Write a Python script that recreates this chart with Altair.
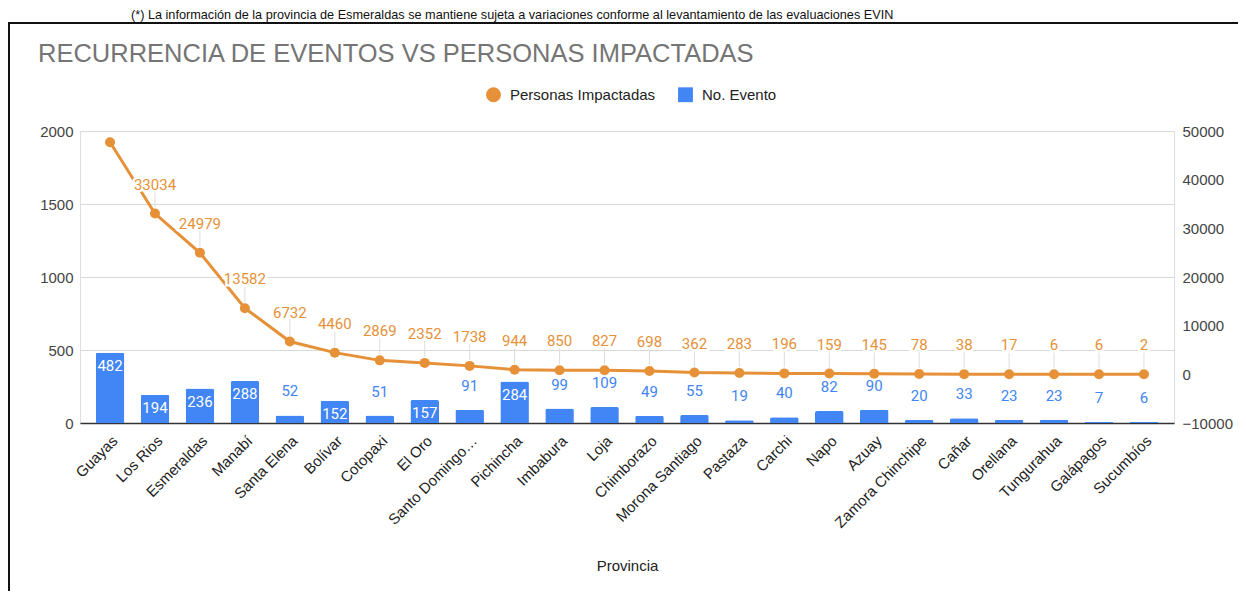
import altair as alt
import pandas as pd

# ---- data ----
provincias = ["Guayas", "Los Rios", "Esmeraldas", "Manabí", "Santa Elena", "Bolívar",
              "Cotopaxi", "El Oro", "Santo Domingo de los Tsáchilas", "Pichincha",
              "Imbabura", "Loja", "Chimborazo", "Morona Santiago", "Pastaza", "Carchi",
              "Napo", "Azuay", "Zamora Chinchipe", "Cañar", "Orellana", "Tungurahua",
              "Galápagos", "Sucumbíos"]
eventos = [482, 194, 236, 288, 52, 152, 51, 157, 91, 284, 99, 109, 49, 55, 19, 40,
           82, 90, 20, 33, 23, 23, 7, 6]
personas = [47700, 33034, 24979, 13582, 6732, 4460, 2869, 2352, 1738, 944, 850, 827,
            698, 362, 283, 196, 159, 145, 78, 38, 17, 6, 6, 2]
serie_personas = "Personas Impactadas"
serie_eventos = "No. Evento"
left_ticks = [0, 500, 1000, 1500, 2000]
right_ticks = [-10000, 0, 10000, 20000, 30000, 40000, 50000]
titulo = "RECURRENCIA DE EVENTOS VS PERSONAS IMPACTADAS"
nota = ("(*) La información de la provincia de Esmeraldas se mantiene sujeta a variaciones "
        "conforme al levantamiento de las evaluaciones EVIN")

df = pd.DataFrame({"provincia": provincias, "eventos": eventos, "personas": personas})

ORANGE = "#E69138"
BLUE = "#4285F4"
AXFONT = "Liberation Sans"

x = alt.X(
    "provincia:N", sort=provincias,
    scale=alt.Scale(paddingInner=0.364, paddingOuter=0.35),
    axis=alt.Axis(
        title="Provincia", labelAngle=315, labelFont=AXFONT, labelFontSize=15,
        labelColor="#222", ticks=False, domainColor="#333", domainWidth=1.5,
        labelPadding=10, titlePadding=28, titleFont=AXFONT, titleFontSize=15,
        titleFontWeight="normal", titleColor="#222", labelLimit=200,
        labelExpr="length(datum.label) > 16 ? substring(datum.label, 0, 13) + '…' : datum.label",
    ),
)

y_left = alt.Y(
    "eventos:Q",
    scale=alt.Scale(domain=[0, 2000], nice=False),
    axis=alt.Axis(values=left_ticks, format="d", grid=True, gridColor="#d9d9d9", domain=False,
                  ticks=False, labelPadding=7, labelFont=AXFONT, labelFontSize=15,
                  labelColor="#444", title=None),
)
y_right = alt.Y(
    "personas:Q",
    scale=alt.Scale(domain=[-10000, 50000], nice=False),
    axis=alt.Axis(orient="right", values=right_ticks, format="d", grid=False, domain=False,
                  ticks=False, labelPadding=8, labelFont=AXFONT, labelFontSize=15,
                  labelColor="#444", title=None),
)

base = alt.Chart(df)

bars = base.mark_bar(color=BLUE, cornerRadiusTopLeft=2, cornerRadiusTopRight=2).encode(x=x, y=y_left)
bar_in = base.mark_text(color="white", font="Roboto", fontSize=15, baseline="middle", dy=13).encode(
    x=x, y=y_left, text="eventos:Q").transform_filter("datum.eventos >= 150")
bar_out = base.mark_text(color=BLUE, font="Roboto", fontSize=15, baseline="middle", dy=-24).encode(
    x=x, y=y_left, text="eventos:Q").transform_filter("datum.eventos < 150")
bar_group = alt.layer(bars, bar_in, bar_out)

line = base.mark_line(color=ORANGE, strokeWidth=3).encode(x=x, y=y_right)
leaders = base.mark_rule(color="#dddddd", strokeWidth=1, yOffset=-22, y2Offset=-6).encode(
    x=x, y=y_right, y2=alt.Y2("personas")).transform_filter("datum.provincia != 'Guayas'")

legend_def = alt.Legend(orient="none", legendX=406, legendY=-44, direction="horizontal",
                        title=None, symbolSize=220, labelFont=AXFONT, labelFontSize=15,
                        labelColor="#222", columnPadding=22, labelOffset=9,
                        symbolStrokeWidth=0, padding=0)
points = base.mark_point(filled=True, size=100, opacity=1).encode(
    x=x, y=y_right,
    color=alt.Color("serie:N", scale=alt.Scale(domain=[serie_personas, serie_eventos],
                                                range=[ORANGE, BLUE]), legend=legend_def),
    shape=alt.Shape("serie:N", scale=alt.Scale(domain=[serie_personas, serie_eventos],
                                                range=["circle", "square"]), legend=legend_def),
).transform_calculate(serie="'" + serie_personas + "'")

halo = base.mark_text(color="white", stroke="white", strokeWidth=5, font="Roboto", fontSize=15,
                      baseline="middle", dy=-29).encode(
    x=x, y=y_right, text="personas:Q").transform_filter("datum.provincia != 'Guayas'")
plabels = base.mark_text(color=ORANGE, font="Roboto", fontSize=15, baseline="middle", dy=-29).encode(
    x=x, y=y_right, text="personas:Q").transform_filter("datum.provincia != 'Guayas'")
line_group = alt.layer(line, leaders, points, halo, plabels)

# frame, note and title (decoration)
deco_data = alt.Data(values=[{"t": nota, "title": titulo}])
frame_left = alt.Chart(deco_data).mark_rule(color="#111", strokeWidth=2).encode(
    x=alt.value(-71), y=alt.value(-108), y2=alt.value(470))
frame_top = alt.Chart(deco_data).mark_rule(color="#111", strokeWidth=2).encode(
    x=alt.value(-72), x2=alt.value(1160), y=alt.value(-108))
note = alt.Chart(deco_data).mark_text(font=AXFONT, fontSize=12.7, color="#111", align="left",
                                      baseline="alphabetic").encode(
    x=alt.value(51), y=alt.value(-112), text="t:N")
title = alt.Chart(deco_data).mark_text(font=AXFONT, fontSize=25.5, color="#757575", align="left",
                                       baseline="alphabetic").encode(
    x=alt.value(-42), y=alt.value(-69), text="title:N")

chart = alt.layer(bar_group, line_group, frame_left, frame_top, note, title).resolve_scale(
    y="independent"
).properties(
    width=1094, height=292,
    autosize=alt.AutoSizeParams(type="none"),
    padding={"left": 72, "top": 123, "right": 64, "bottom": 168},
).configure_view(stroke=None).configure(background="white")

chart.save("out.html", embed_options={"renderer": "svg", "actions": False})
